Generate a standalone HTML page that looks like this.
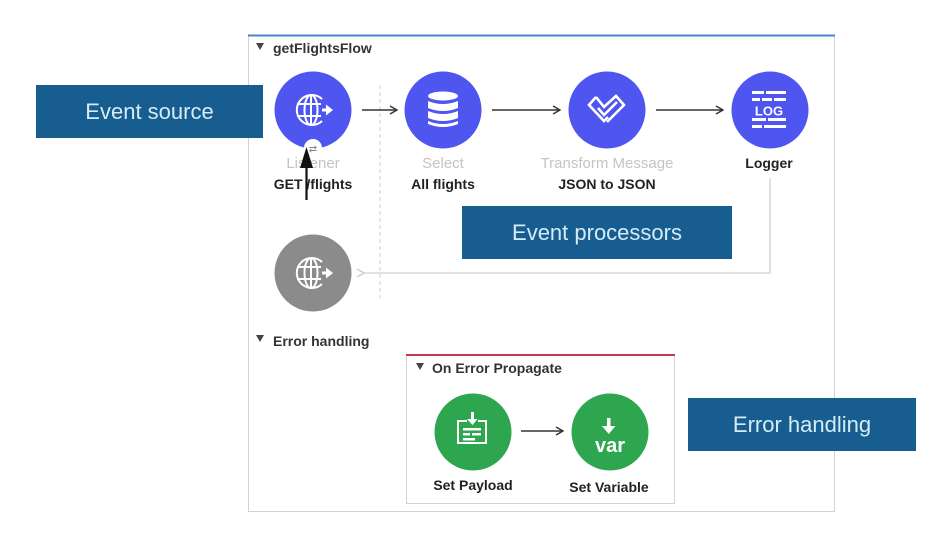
<!DOCTYPE html>
<html><head><meta charset="utf-8">
<style>
html,body{margin:0;padding:0;background:#fff;}
svg{display:block;}
text{font-family:"Liberation Sans",sans-serif;}
</style></head>
<body>
<svg width="936" height="540" viewBox="0 0 936 540" xmlns="http://www.w3.org/2000/svg">
<defs>
<marker id="ah" markerWidth="10" markerHeight="10" refX="9" refY="5" orient="auto" markerUnits="userSpaceOnUse">
<path d="M2,1 L9,5 L2,9" fill="none" stroke="#333" stroke-width="1.4"/>
</marker>
<marker id="ahg" markerWidth="10" markerHeight="10" refX="1" refY="5" orient="auto" markerUnits="userSpaceOnUse">
<path d="M8,1 L1,5 L8,9" fill="none" stroke="#ccc" stroke-width="1.4"/>
</marker>
</defs>

<!-- outer panel -->
<rect x="248.5" y="35.5" width="586" height="476" fill="#fff" stroke="#d2d2d2" stroke-width="1"/>
<line x1="248" y1="35.5" x2="835" y2="35.5" stroke="#4a87c9" stroke-width="2"/>

<!-- title -->
<path d="M256,43 L264,43 L260,50 Z" fill="#444"/>
<text x="273" y="53" font-size="14" font-weight="bold" fill="#333">getFlightsFlow</text>

<!-- dashed separator -->
<line x1="380" y1="85" x2="380" y2="298" stroke="#cfcfcf" stroke-width="1" stroke-dasharray="4,3"/>

<!-- logger return line -->
<polyline points="770,178 770,273 364,273" fill="none" stroke="#cfcfcf" stroke-width="1.3" marker-end="url(#ahg)"/>

<!-- Listener -->
<circle cx="313" cy="110" r="38.5" fill="#4f56f0"/>
<g stroke="#fff" stroke-width="2" fill="none">
<path d="M322,99 A15,15 0 1 0 322,121"/>
<ellipse cx="311" cy="110" rx="6.5" ry="15"/>
<line x1="311" y1="95" x2="311" y2="125"/>
<line x1="297" y1="104" x2="321" y2="104"/>
<line x1="297" y1="116" x2="321" y2="116"/>
</g>
<rect x="322" y="108.5" width="5" height="3" fill="#fff"/>
<path d="M326,104.5 L333,110 L326,115.5 Z" fill="#fff"/>
<circle cx="313" cy="148" r="9" fill="#fff"/>
<text x="313" y="152" font-size="10" fill="#888" text-anchor="middle">⇄</text>

<!-- Select -->
<circle cx="443" cy="110" r="38.5" fill="#4f56f0"/>
<g fill="#fff">
<ellipse cx="443" cy="96" rx="15" ry="4.5"/>
<path d="M428,101 Q443,107 458,101 L458,108 Q443,114 428,108 Z"/>
<path d="M428,111 Q443,117 458,111 L458,118 Q443,124 428,118 Z"/>
<path d="M428,121 Q443,127 458,121 L458,124 Q443,130 428,124 Z"/>
</g>

<!-- Transform -->
<circle cx="607" cy="110" r="38.5" fill="#4f56f0"/>
<g stroke="#fff" stroke-width="2.6" fill="none" stroke-linejoin="miter">
<path d="M596,97 L589,105 L604,121 L608,117"/>
<path d="M596,97 L604,107 L616,96 L624,105 L607,122"/>
<path d="M598,108 L604,115 L617,102"/>
</g>

<!-- Logger -->
<circle cx="770" cy="110" r="38.5" fill="#4f56f0"/>
<g fill="#fff">
<rect x="752" y="91" width="12" height="3"/><rect x="766" y="91" width="20" height="3"/>
<rect x="752" y="98" width="8" height="3"/><rect x="762" y="98" width="10" height="3"/><rect x="774" y="98" width="12" height="3"/>
<rect x="752" y="118" width="14" height="3"/><rect x="768" y="118" width="18" height="3"/>
<rect x="752" y="125" width="10" height="3"/><rect x="764" y="125" width="22" height="3"/>
</g>
<text x="769" y="115.5" font-size="13" fill="#fff" text-anchor="middle" font-weight="bold">LOG</text>

<!-- arrows row -->
<line x1="362" y1="110" x2="397" y2="110" stroke="#333" stroke-width="1.4" marker-end="url(#ah)"/>
<line x1="492" y1="110" x2="560" y2="110" stroke="#333" stroke-width="1.4" marker-end="url(#ah)"/>
<line x1="656" y1="110" x2="723" y2="110" stroke="#333" stroke-width="1.4" marker-end="url(#ah)"/>

<!-- labels -->
<text x="313" y="168" font-size="15" fill="#c4c4c4" text-anchor="middle">Listener</text>
<text x="313" y="189" font-size="14" font-weight="bold" fill="#222" text-anchor="middle">GET /flights</text>
<text x="443" y="168" font-size="15" fill="#c4c4c4" text-anchor="middle">Select</text>
<text x="443" y="189" font-size="14" font-weight="bold" fill="#222" text-anchor="middle">All flights</text>
<text x="607" y="168" font-size="15" fill="#c4c4c4" text-anchor="middle">Transform Message</text>
<text x="607" y="189" font-size="14" font-weight="bold" fill="#222" text-anchor="middle">JSON to JSON</text>
<text x="769" y="168" font-size="14" font-weight="bold" fill="#222" text-anchor="middle">Logger</text>

<!-- black pointer arrow -->
<line x1="306.5" y1="200" x2="306.5" y2="160" stroke="#111" stroke-width="2.2"/>
<path d="M306.5,147 L300,168 L313,168 Z" fill="#111"/>

<!-- gray response -->
<circle cx="313" cy="273" r="38.5" fill="#8b8b8b"/>
<g stroke="#fff" stroke-width="2" fill="none">
<path d="M322,262 A15,15 0 1 0 322,284"/>
<ellipse cx="311" cy="273" rx="6.5" ry="15"/>
<line x1="311" y1="258" x2="311" y2="288"/>
<line x1="297" y1="267" x2="321" y2="267"/>
<line x1="297" y1="279" x2="321" y2="279"/>
</g>
<rect x="322" y="271.5" width="5" height="3" fill="#fff"/>
<path d="M326,267.5 L333,273 L326,278.5 Z" fill="#fff"/>

<!-- Error handling section -->
<path d="M256,335 L264,335 L260,342 Z" fill="#444"/>
<text x="273" y="346" font-size="14" font-weight="bold" fill="#333">Error handling</text>

<rect x="406.5" y="355.5" width="268" height="148" fill="#fff" stroke="#d2d2d2" stroke-width="1"/>
<line x1="406" y1="355" x2="675" y2="355" stroke="#c43a4c" stroke-width="2"/>
<path d="M416,363 L424,363 L420,370 Z" fill="#444"/>
<text x="432" y="373" font-size="14" font-weight="bold" fill="#333">On Error Propagate</text>

<!-- Set Payload -->
<circle cx="473" cy="432" r="38.5" fill="#2ea64f"/>
<g stroke="#fff" stroke-width="2" fill="none">
<path d="M467,421 L458,421 L458,443 L486,443 L486,421 L478,421"/>
</g>
<g fill="#fff">
<rect x="471" y="412" width="3" height="9"/>
<path d="M467,419 L477.5,419 L472.5,425 Z"/>
<rect x="463" y="428" width="18" height="2.5"/>
<rect x="463" y="433" width="7" height="2.5"/><rect x="472" y="433" width="9" height="2.5"/>
<rect x="463" y="438" width="12" height="2.5"/>
</g>
<line x1="521" y1="431" x2="563" y2="431" stroke="#333" stroke-width="1.4" marker-end="url(#ah)"/>

<!-- Set Variable -->
<circle cx="610" cy="432" r="38.5" fill="#2ea64f"/>
<rect x="607" y="418" width="3.5" height="10" fill="#fff"/>
<path d="M602,426 L615.5,426 L608.75,434 Z" fill="#fff"/>
<text x="610" y="452" font-size="20" font-weight="bold" fill="#fff" text-anchor="middle">var</text>

<text x="473" y="490" font-size="14" font-weight="bold" fill="#222" text-anchor="middle">Set Payload</text>
<text x="609" y="492" font-size="14" font-weight="bold" fill="#222" text-anchor="middle">Set Variable</text>

<!-- callout boxes -->
<rect x="36" y="85" width="227" height="53" fill="#175d8f"/>
<text x="149.5" y="119" font-size="22" fill="#d3ecf8" text-anchor="middle">Event source</text>

<rect x="462" y="206" width="270" height="53" fill="#175d8f"/>
<text x="597" y="240" font-size="22" fill="#d3ecf8" text-anchor="middle">Event processors</text>

<rect x="688" y="398" width="228" height="53" fill="#175d8f"/>
<text x="802" y="432" font-size="22" fill="#d3ecf8" text-anchor="middle">Error handling</text>
</svg>
</body></html>
